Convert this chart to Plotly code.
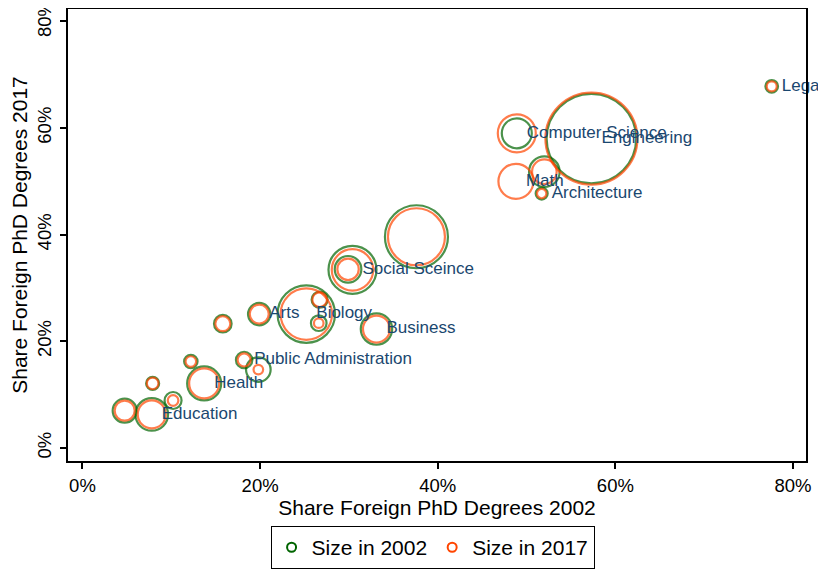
import plotly.graph_objects as go

# Field labels (empty = unlabeled field)
fields = ["Legal", "Engineering", "Computer Science", "Math", "", "Architecture", "",
          "Social Sceince", "", "Business", "Biology", "", "", "Arts", "",
          "Public Administration", "", "", "Health", "", "", "Education", ""]

# Share of foreign PhD degrees
share_2002 = [0.776, 0.573, 0.489, 0.488, 0.520, 0.517, 0.376,
              0.304, 0.299, 0.331, 0.252, 0.267, 0.266, 0.199, 0.158,
              0.182, 0.198, 0.122, 0.137, 0.079, 0.102, 0.078, 0.0475]
share_2017 = [0.678, 0.580, 0.590, 0.500, 0.518, 0.477, 0.396,
              0.334, 0.335, 0.223, 0.251, 0.278, 0.234, 0.251, 0.233,
              0.165, 0.147, 0.162, 0.121, 0.121, 0.089, 0.063, 0.070]

# Number of PhD degrees (bubble size); Math has no visible 2002 ring
size_2002 = [188, 9485, 1063, 0, 1106, 170, 4689,
             2722, 836, 1165, 3893, 302, 288, 593, 366,
             318, 715, 212, 1366, 200, 341, 1256, 681]
size_2017 = [118, 10000, 1706, 1447, 715, 104, 3839,
             2025, 541, 861, 3121, 252, 109, 427, 266,
             200, 109, 133, 1063, 159, 133, 926, 473]

x_ticks = [0, 0.2, 0.4, 0.6, 0.8]
y_ticks = [0, 0.2, 0.4, 0.6, 0.8]

GREEN = "#006400"
ORANGE = "#FF4500"
LABEL = "#1a476f"
FONT = "Liberation Sans, Arial, sans-serif"
SIZEREF = 2 * 10000 / 92 ** 2

fig = go.Figure()
fig.add_trace(go.Scatter(
    x=share_2002, y=share_2017, mode="markers", showlegend=False,
    marker=dict(size=size_2002, sizemode="area", sizeref=SIZEREF,
                color="rgba(0,0,0,0)", line=dict(color=GREEN, width=2.2)),
    hoverinfo="skip"))
fig.add_trace(go.Scatter(
    x=share_2002, y=share_2017, mode="markers", showlegend=False,
    marker=dict(size=size_2017, sizemode="area", sizeref=SIZEREF,
                color="rgba(0,0,0,0)", line=dict(color=ORANGE, width=2.2)),
    hoverinfo="skip"))
fig.add_trace(go.Scatter(
    x=share_2002, y=share_2017, mode="markers+text", text=fields,
    textposition="middle right", showlegend=False, cliponaxis=False,
    textfont=dict(family=FONT, size=17, color=LABEL),
    marker=dict(size=14.4, color="rgba(0,0,0,0)", line=dict(width=0)),
    hoverinfo="skip"))

# legend entries
fig.add_trace(go.Scatter(x=[None], y=[None], mode="markers", name="Size in 2002",
                         marker=dict(size=9, color="rgba(0,0,0,0)", line=dict(color=GREEN, width=2))))
fig.add_trace(go.Scatter(x=[None], y=[None], mode="markers", name="Size in 2017",
                         marker=dict(size=9, color="rgba(0,0,0,0)", line=dict(color=ORANGE, width=2))))

axis_common = dict(showgrid=False, zeroline=False, showline=True, mirror=True,
                   linecolor="black", linewidth=2, ticks="outside", ticklen=6,
                   tickwidth=1.5, tickcolor="black", tickformat=".0%",
                   automargin=False, ticklabeloverflow="allow",
                   tickfont=dict(family=FONT, size=18.5, color="black"))

fig.update_layout(
    width=818, height=563,
    margin=dict(l=60, r=20, t=1, b=110, autoexpand=False),
    paper_bgcolor="white", plot_bgcolor="white",
    font=dict(family=FONT, color="black"),
    xaxis=dict(range=[-0.0163, 0.8146], tickvals=x_ticks, ticklabelstandoff=1,
               title=dict(text="Share Foreign PhD Degrees 2002", standoff=0,
                          font=dict(family=FONT, size=21)),
               **axis_common),
    yaxis=dict(range=[-0.0244, 0.823], tickvals=y_ticks, tickangle=-90,
               ticklabelstandoff=2,
               title=dict(text="Share Foreign PhD Degrees 2017", standoff=2,
                          font=dict(family=FONT, size=21)),
               **axis_common),
    legend=dict(orientation="h", x=0.494, xanchor="center", y=-0.144, yanchor="top",
                bordercolor="black", borderwidth=1,
                font=dict(family=FONT, size=21, color="black")),
)

fig.write_html("out.html")
